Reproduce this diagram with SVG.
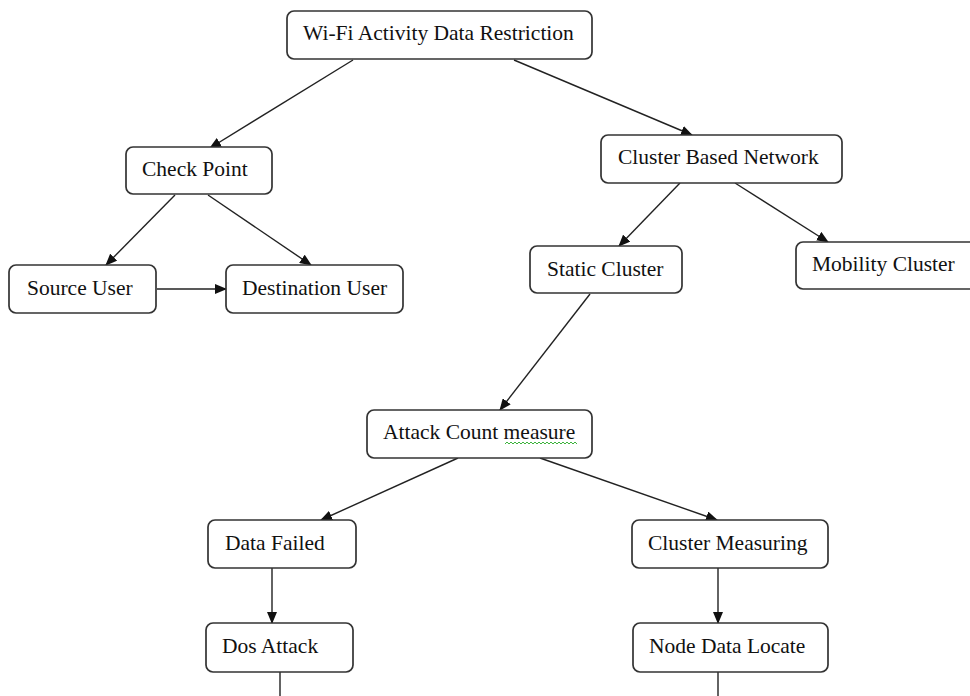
<svg xmlns="http://www.w3.org/2000/svg" width="970" height="696" viewBox="0 0 970 696">
<style>
.box{fill:#fff;stroke:#333;stroke-width:1.7}
.lbl{font-family:"Liberation Serif","Times New Roman",serif;font-size:21.5px;fill:#111}
.edge{stroke:#222;stroke-width:1.4;fill:none}
</style>
<defs>
<marker id="ah" markerUnits="userSpaceOnUse" markerWidth="12" markerHeight="10" refX="11" refY="5" orient="auto">
<path d="M0,0 L12,5 L0,10 z" fill="#111"/>
</marker>
</defs>
<rect width="970" height="696" fill="#fff"/>
<g id="connectors">
<line class="edge" x1="353" y1="60" x2="210" y2="148" marker-end="url(#ah)"/>
<line class="edge" x1="514" y1="60" x2="692" y2="135" marker-end="url(#ah)"/>
<line class="edge" x1="175" y1="195" x2="106" y2="265" marker-end="url(#ah)"/>
<line class="edge" x1="208" y1="195" x2="311" y2="265" marker-end="url(#ah)"/>
<line class="edge" x1="157" y1="289" x2="226" y2="289" marker-end="url(#ah)"/>
<line class="edge" x1="680" y1="183" x2="619" y2="246" marker-end="url(#ah)"/>
<line class="edge" x1="735" y1="183" x2="828" y2="242" marker-end="url(#ah)"/>
<line class="edge" x1="590" y1="294" x2="500" y2="410" marker-end="url(#ah)"/>
<line class="edge" x1="458" y1="458" x2="321" y2="520" marker-end="url(#ah)"/>
<line class="edge" x1="540" y1="458" x2="717" y2="520" marker-end="url(#ah)"/>
<line class="edge" x1="272" y1="568" x2="272" y2="623" marker-end="url(#ah)"/>
<line class="edge" x1="718" y1="568" x2="718" y2="623" marker-end="url(#ah)"/>
<line class="edge" x1="280" y1="672" x2="280" y2="696"/>
<line class="edge" x1="718" y1="672" x2="718" y2="696"/>
</g>
<g id="n-wifi"><rect class="box" x="287" y="11" width="305" height="48" rx="7"/><text class="lbl" x="303" y="40">Wi-Fi Activity Data Restriction</text></g>
<g id="n-checkpoint"><rect class="box" x="126" y="147" width="146" height="47" rx="7"/><text class="lbl" x="142" y="176">Check Point</text></g>
<g id="n-source"><rect class="box" x="9" y="265" width="147" height="48" rx="7"/><text class="lbl" x="27" y="295">Source User</text></g>
<g id="n-dest"><rect class="box" x="226" y="265" width="177" height="48" rx="7"/><text class="lbl" x="242" y="295">Destination User</text></g>
<g id="n-cbn"><rect class="box" x="601" y="135" width="241" height="48" rx="7"/><text class="lbl" x="618" y="164">Cluster Based Network</text></g>
<g id="n-static"><rect class="box" x="530" y="246" width="152" height="47" rx="7"/><text class="lbl" x="547" y="276">Static Cluster</text></g>
<g id="n-mobility"><rect class="box" x="796" y="242" width="190" height="47" rx="7"/><text class="lbl" x="812" y="271">Mobility Cluster</text></g>
<g id="n-attack"><rect class="box" x="367" y="410" width="225" height="48" rx="7"/><text class="lbl" x="383" y="439">Attack Count measure</text>
<path d="M505,444 l2,-2 l2,2 l2,-2 l2,2 l2,-2 l2,2 l2,-2 l2,2 l2,-2 l2,2 l2,-2 l2,2 l2,-2 l2,2 l2,-2 l2,2 l2,-2 l2,2 l2,-2 l2,2 l2,-2 l2,2 l2,-2 l2,2 l2,-2 l2,2 l2,-2 l2,2 l2,-2 l2,2 l2,-2 l2,2 l2,-2 l2,2 l2,-2 l2,2" fill="none" stroke="#3bb33b" stroke-width="1"/></g>
<g id="n-datafailed"><rect class="box" x="208" y="520" width="148" height="48" rx="7"/><text class="lbl" x="225" y="550">Data Failed</text></g>
<g id="n-clustermeasuring"><rect class="box" x="632" y="520" width="196" height="48" rx="7"/><text class="lbl" x="648" y="550">Cluster Measuring</text></g>
<g id="n-dos"><rect class="box" x="206" y="623" width="147" height="49" rx="7"/><text class="lbl" x="222" y="653">Dos Attack</text></g>
<g id="n-nodedata"><rect class="box" x="633" y="623" width="195" height="49" rx="7"/><text class="lbl" x="649" y="653">Node Data Locate</text></g>
</svg>
